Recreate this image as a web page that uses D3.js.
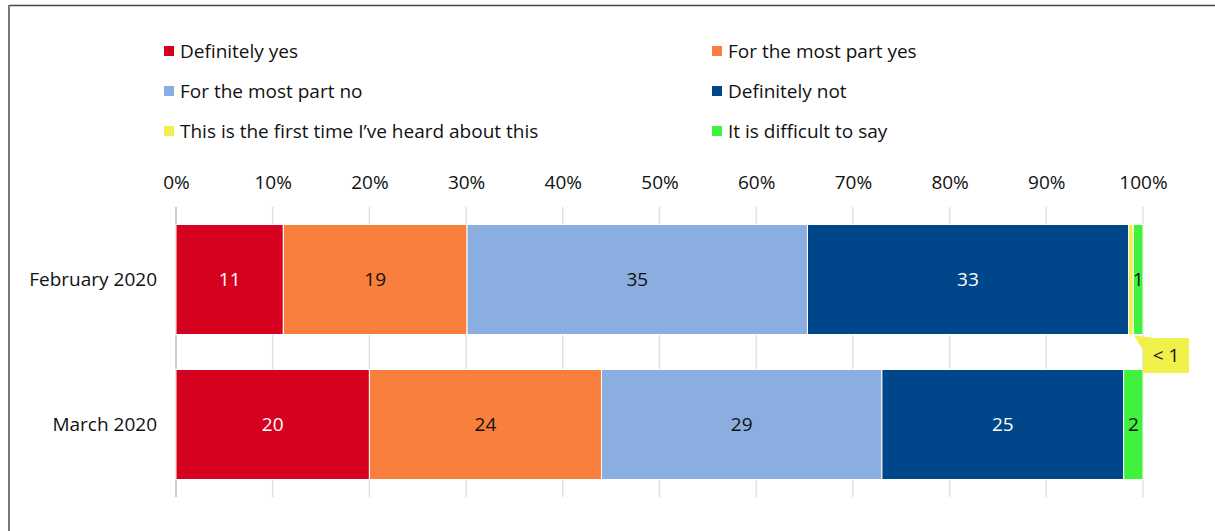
<!DOCTYPE html>
<html>
<head>
<meta charset="utf-8">
<script src="https://cdn.jsdelivr.net/npm/d3@7"></script>
<style>
  body { margin: 0; background: #fff; }
  svg { display: block; font-family: "Open Sans", sans-serif; }
</style>
</head>
<body>
<div id="chart"></div>
<script>
// data
var periods = ["February 2020", "March 2020"];
var answers = ["Definitely yes", "For the most part yes", "For the most part no",
               "Definitely not", "This is the first time I\u2019ve heard about this", "It is difficult to say"];
var colors = ["#d6001f", "#f9803c", "#8aaee0", "#00468a", "#f0f04a", "#3ef23e"];
var febValues = [11.1, 19, 35.2, 33.2, 0.5, 1.0];
var marValues = [20, 24, 29, 25, 0, 2];
var tickValues = [0, 10, 20, 30, 40, 50, 60, 70, 80, 90, 100];

var W = 1215, H = 531;
var margin = { left: 176, right: 72 };
var width = W - margin.left - margin.right;
var fs = "19px";

var svg = d3.select("#chart").append("svg")
    .attr("width", W)
    .attr("height", H);

// frame
svg.append("line").attr("x1", 9).attr("x2", W).attr("y1", 5.5).attr("y2", 5.5)
    .attr("stroke", "#444").attr("stroke-width", 1.5);
svg.append("line").attr("x1", 9).attr("x2", 9).attr("y1", 5).attr("y2", H)
    .attr("stroke", "#777").attr("stroke-width", 2);

// legend, two columns
var legend = svg.append("g");
answers.forEach(function (name, i) {
    var col = i % 2, row = Math.floor(i / 2);
    var lx = col === 0 ? 164 : 712;
    var ly = 51 + row * 40;
    legend.append("rect")
        .attr("x", lx).attr("y", ly - 5)
        .attr("width", 10).attr("height", 10)
        .attr("fill", colors[i]);
    legend.append("text")
        .attr("x", lx + 16).attr("y", ly)
        .attr("dy", "0.35em")
        .attr("font-size", fs)
        .attr("fill", "#111")
        .text(name);
});

var x = d3.scaleLinear().domain([0, 100]).range([margin.left, margin.left + width]);
var y = d3.scaleBand().domain(periods).range([207, 497]).paddingInner(0.2414).paddingOuter(0.1207);

// gridlines
svg.append("g")
    .selectAll("line")
    .data(tickValues)
    .join("line")
    .attr("x1", d => x(d)).attr("x2", d => x(d))
    .attr("y1", 207).attr("y2", 497)
    .attr("stroke", d => d === 0 ? "#cfcfcf" : "#e0e0e0")
    .attr("stroke-width", d => d === 0 ? 2 : 1.5);

// top axis labels
var axis = svg.append("g")
    .attr("transform", "translate(0,182)")
    .call(d3.axisTop(x).tickValues(tickValues).tickFormat(d => d + "%").tickSize(0).tickPadding(0));
axis.select(".domain").remove();
axis.selectAll("text")
    .attr("font-family", "Open Sans, sans-serif")
    .attr("font-size", fs)
    .attr("fill", "#111")
    .attr("dy", "0.35em");

// category labels
svg.append("g")
    .selectAll("text")
    .data(periods)
    .join("text")
    .attr("x", 157)
    .attr("y", d => y(d) + y.bandwidth() / 2)
    .attr("dy", "0.35em")
    .attr("text-anchor", "end")
    .attr("font-size", fs)
    .attr("fill", "#111")
    .text(d => d);

// stacked bars
var rows = [febValues, marValues];
rows.forEach(function (vals, r) {
    var start = 0;
    var g = svg.append("g");
    vals.forEach(function (v, i) {
        var x0 = x(start), x1 = x(start + v);
        start += v;
        if (v <= 0) return;
        g.append("rect")
            .attr("x", x0).attr("y", y(periods[r]))
            .attr("width", x1 - x0).attr("height", y.bandwidth())
            .attr("fill", colors[i])
            .attr("stroke", "#fff").attr("stroke-width", 1);
        if (i === 4) return; // tiny yellow gets a callout instead
        g.append("text")
            .attr("x", (x0 + x1) / 2)
            .attr("y", y(periods[r]) + y.bandwidth() / 2)
            .attr("dy", "0.35em")
            .attr("text-anchor", "middle")
            .attr("font-size", fs)
            .attr("fill", (i === 0 || i === 3) ? "#fff" : "#111")
            .text(Math.round(v));
    });
});

// "< 1" callout for February yellow segment
var segMid = x(febValues.slice(0, 4).reduce((a, b) => a + b, 0) + febValues[4] / 2);
var barBottom = y(periods[0]) + y.bandwidth();
var bx = 1143, by = 338, bw = 46, bh = 35;
svg.append("path")
    .attr("d", `M${segMid + 3},${barBottom + 1} L${bx + 12},${by} L${bx},${by + 12} Z`)
    .attr("fill", "#f0f04a");
svg.append("rect")
    .attr("x", bx).attr("y", by).attr("width", bw).attr("height", bh)
    .attr("fill", "#f0f04a");
svg.append("text")
    .attr("x", bx + bw / 2).attr("y", by + bh / 2)
    .attr("dy", "0.35em")
    .attr("text-anchor", "middle")
    .attr("font-size", fs)
    .attr("fill", "#111")
    .text("< 1");
</script>
</body>
</html>
